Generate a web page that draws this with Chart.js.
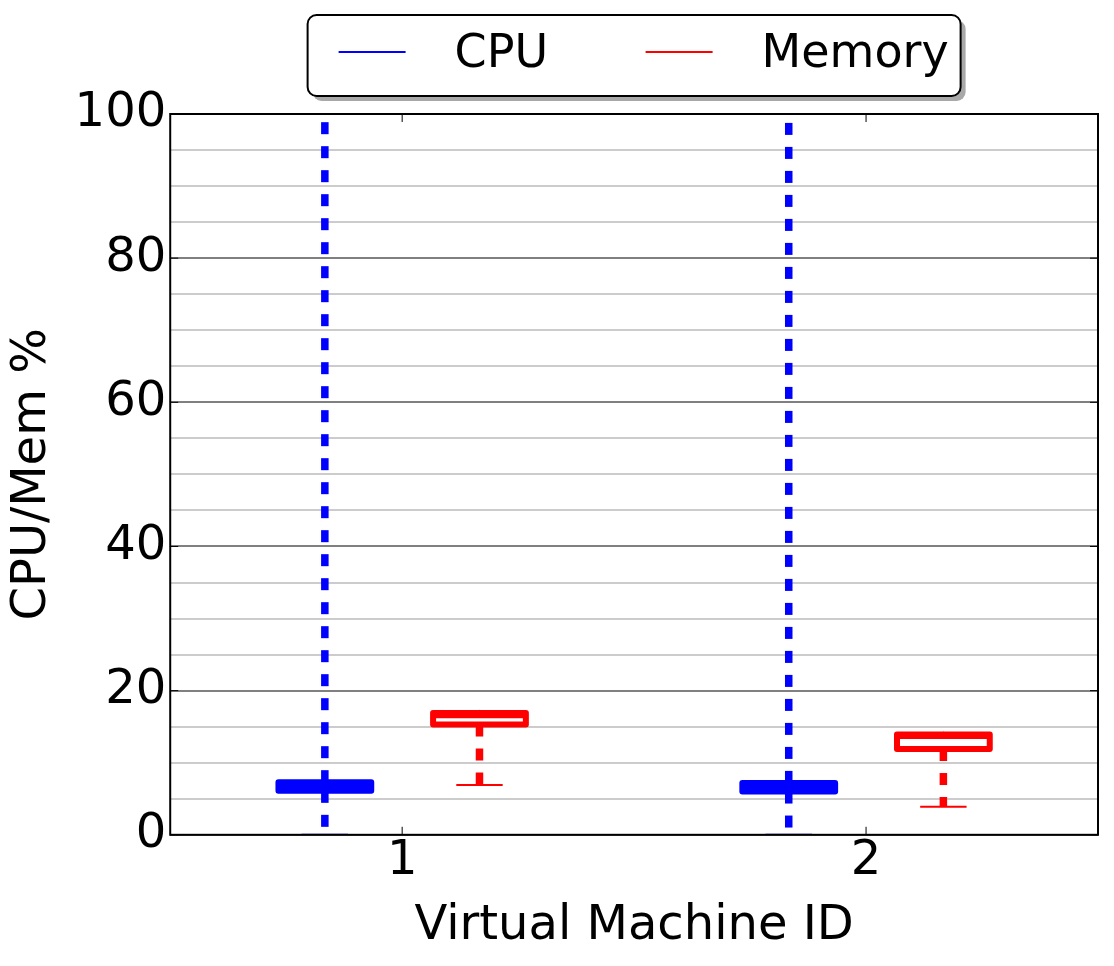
<!doctype html>
<html>

<head>
    <title>CPU / Memory box plot</title>
    <script src="https://cdn.jsdelivr.net/npm/chart.js"></script>
    <style>
        body {
            margin: 0;
            background: #ffffff;
        }
    </style>
</head>

<body>
    <canvas id="chartBox" width="1114" height="966"></canvas>

    <script>
        // dados
        var vmIds = [1, 2];
        var seriesNames = ['CPU', 'Memory'];
        var yTicks = [0, 20, 40, 60, 80, 100];

        var cpuMin = [0, 0];
        var cpuQ1 = [6.1, 6.0];
        var cpuMedian = [6.7, 6.6];
        var cpuQ3 = [7.3, 7.2];
        var cpuMax = [100, 100];

        var memMin = [6.9, 3.9];
        var memQ1 = [15.3, 11.9];
        var memMedian = [16.6, 13.7];
        var memQ3 = [16.9, 13.9];
        var memMax = [16.9, 13.9];

        var fonte = 'DejaVu Sans';
        var cores = ['#0000ff', '#ff0000'];
        var deslocamento = [-1 / 6, 1 / 6];
        var larguraCaixa = 0.2;
        var larguraCap = 0.1;

        function linha(pontos, cor, largura, tracejado) {
            return {
                data: pontos,
                showLine: true,
                borderColor: cor,
                borderWidth: largura,
                borderDash: tracejado || [],
                borderCapStyle: 'butt',
                borderJoinStyle: 'round',
                pointRadius: 0,
                fill: false
            };
        }

        function montarCaixas(min, q1, med, q3, max, desloc, cor) {
            var ds = [];
            vmIds.forEach((id, i) => {
                var x = id + desloc;
                var e = x - larguraCaixa / 2;
                var d = x + larguraCaixa / 2;
                // bigodes tracejados
                ds.push(linha([{ x: x, y: q1[i] }, { x: x, y: min[i] }], cor, 7.5, [12, 12]));
                ds.push(linha([{ x: x, y: q3[i] }, { x: x, y: max[i] }], cor, 7.5, [12, 12]));
                // caixa
                ds.push(linha([{ x: e, y: q1[i] }, { x: d, y: q1[i] }, { x: d, y: q3[i] }, { x: e, y: q3[i] }, { x: e, y: q1[i] }], cor, 6));
                // mediana
                ds.push(linha([{ x: e, y: med[i] }, { x: d, y: med[i] }], cor, 6));
                // caps
                ds.push(linha([{ x: x - larguraCap / 2, y: min[i] }, { x: x + larguraCap / 2, y: min[i] }], cor, 2));
                ds.push(linha([{ x: x - larguraCap / 2, y: max[i] }, { x: x + larguraCap / 2, y: max[i] }], cor, 2));
            });
            return ds;
        }

        var datasets = montarCaixas(cpuMin, cpuQ1, cpuMedian, cpuQ3, cpuMax, deslocamento[0], cores[0])
            .concat(montarCaixas(memMin, memQ1, memMedian, memQ3, memMax, deslocamento[1], cores[1]));

        // moldura e ticks para dentro, como no matplotlib
        var moldura = {
            id: 'moldura',
            afterDatasetsDraw(chart) {
                var ctx = chart.ctx;
                var a = chart.chartArea;
                var sx = chart.scales.x;
                var sy = chart.scales.y;
                ctx.save();
                ctx.strokeStyle = '#000000';
                ctx.lineWidth = 1;
                ctx.beginPath();
                vmIds.forEach((v) => {
                    var px = sx.getPixelForValue(v);
                    ctx.moveTo(px, a.bottom); ctx.lineTo(px, a.bottom - 8);
                    ctx.moveTo(px, a.top); ctx.lineTo(px, a.top + 8);
                });
                yTicks.forEach((v) => {
                    var py = sy.getPixelForValue(v);
                    ctx.moveTo(a.left, py); ctx.lineTo(a.left + 8, py);
                    ctx.moveTo(a.right, py); ctx.lineTo(a.right - 8, py);
                });
                ctx.stroke();
                ctx.lineWidth = 2;
                ctx.strokeRect(a.left, a.top, a.right - a.left, a.bottom - a.top);
                ctx.restore();
            }
        };

        // legenda com caixa arredondada e sombra
        var legenda = {
            id: 'legenda',
            afterDraw(chart) {
                var ctx = chart.ctx;
                var a = chart.chartArea;
                var w = 653, h = 81;
                var left = (a.left + a.right) / 2 - w / 2;
                var top = 15;
                ctx.save();
                ctx.fillStyle = '#a8a8a8';
                ctx.beginPath();
                ctx.roundRect(left + 5, top + 5, w, h, 9);
                ctx.fill();
                ctx.fillStyle = '#ffffff';
                ctx.strokeStyle = '#000000';
                ctx.lineWidth = 2;
                ctx.beginPath();
                ctx.roundRect(left, top, w, h, 9);
                ctx.fill();
                ctx.stroke();
                ctx.font = '46px "' + fonte + '"';
                ctx.textBaseline = 'alphabetic';
                seriesNames.forEach((nome, i) => {
                    var x0 = left + 31 + i * 307;
                    ctx.strokeStyle = cores[i];
                    ctx.lineWidth = 2;
                    ctx.beginPath();
                    ctx.moveTo(x0, 52);
                    ctx.lineTo(x0 + 67, 52);
                    ctx.stroke();
                    ctx.fillStyle = '#000000';
                    ctx.fillText(nome, x0 + 116, 67);
                });
                ctx.restore();
            }
        };

        var grafico = new Chart(document.getElementById('chartBox'), {
            type: 'scatter',
            data: { datasets: datasets },
            options: {
                responsive: false,
                animation: false,
                devicePixelRatio: 1,
                layout: { padding: { top: 114, right: 16, bottom: 7, left: 0 } },
                plugins: {
                    legend: { display: false },
                    tooltip: { enabled: false }
                },
                scales: {
                    x: {
                        type: 'linear',
                        min: 0.5,
                        max: 2.5,
                        afterBuildTicks: (axis) => {
                            axis.ticks = vmIds.map((v) => ({ value: v }));
                        },
                        grid: { display: false },
                        border: { display: false },
                        ticks: {
                            color: '#000000',
                            padding: -10,
                            font: { family: fonte, size: 48 },
                            callback: (v) => String(v)
                        },
                        title: {
                            display: true,
                            text: 'Virtual Machine ID',
                            color: '#000000',
                            padding: { top: 17, bottom: 4 },
                            font: { family: fonte, size: 48 }
                        }
                    },
                    y: {
                        min: 0,
                        max: 100,
                        grid: {
                            drawTicks: false,
                            lineWidth: 2,
                            color: (c) => (c.tick && c.tick.value % 20 === 0 ? '#808080' : '#cccccc')
                        },
                        border: { display: false },
                        ticks: {
                            stepSize: 5,
                            autoSkip: false,
                            padding: 4,
                            color: '#000000',
                            font: { family: fonte, size: 48 },
                            callback: (v) => (yTicks.indexOf(v) >= 0 ? String(v) : '')
                        },
                        title: {
                            display: true,
                            text: 'CPU/Mem %',
                            color: '#000000',
                            padding: { top: 4, bottom: 9 },
                            font: { family: fonte, size: 48 }
                        }
                    }
                }
            },
            plugins: [moldura, legenda]
        });
    </script>
</body>

</html>
